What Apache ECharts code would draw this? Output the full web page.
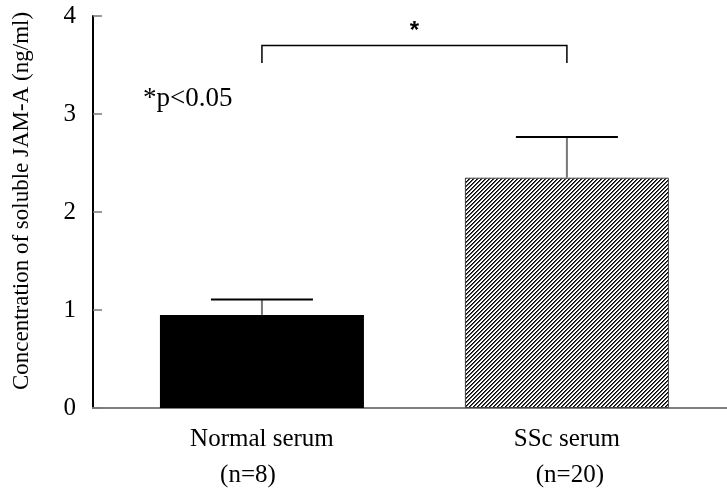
<!DOCTYPE html>
<html>
<head>
<meta charset="utf-8">
<script src="https://cdn.jsdelivr.net/npm/echarts@6/dist/echarts.min.js"></script>
<style>
  html, body { margin: 0; padding: 0; background: #fff; }
  #chart { width: 727px; height: 494px; }
</style>
</head>
<body>
<div id="chart"></div>
<script>
// Groups and their sample sizes
const groups = ['Normal serum', 'SSc serum'];
const sampleSizes = ['(n=8)', '(n=20)'];
// Mean concentration (ng/ml) and its error per group
const means = [0.95, 2.35];
const errors = [0.157, 0.415];
// Y axis ticks
const yTicks = [0, 1, 2, 3, 4];
// Significance bracket: spans group 1 to 2, top level and leg end level
const bracket = { from: 1, to: 2, top: 3.7, leg: 3.52, mark: '*' };
const pNote = '*p<0.05';

const positions = groups.map((_, i) => i + 1);

// Diagonal hatch tile for the second bar
function hatchTile() {
  const c = document.createElement('canvas');
  const n = 4;
  c.width = n; c.height = n;
  const ctx = c.getContext('2d');
  const img = ctx.createImageData(n, n);
  for (let y = 0; y < n; y++) {
    for (let x = 0; x < n; x++) {
      const d = (x + y) % n;
      let v = 255;
      if (d === n - 1) v = 0;
      else if (d === 0) v = 80;
      const k = (y * n + x) * 4;
      img.data[k] = v; img.data[k + 1] = v; img.data[k + 2] = v; img.data[k + 3] = 255;
    }
  }
  ctx.putImageData(img, 0, 0);
  return c;
}

const serif = 'Liberation Serif';
const chart = echarts.init(document.getElementById('chart'), null, { renderer: 'canvas' });

const barData = positions.map((p, i) => ({
  value: [p, means[i]],
  itemStyle: i === 0
    ? { color: '#000', borderColor: '#000', borderWidth: 0 }
    : { color: { image: hatchTile(), repeat: 'repeat' }, borderColor: '#444', borderWidth: 1 }
}));

chart.setOption({
  animation: false,
  backgroundColor: '#fff',
  grid: { left: 93, right: 0, top: 16, bottom: 86, outerBoundsMode: 'none', containLabel: false },
  xAxis: {
    type: 'value',
    min: 0.446,
    max: 2.525,
    splitLine: { show: false },
    axisLine: { show: true, lineStyle: { color: '#808080', width: 2 } },
    axisTick: { show: false },
    axisLabel: {
      show: true,
      customValues: positions,
      margin: 13,
      formatter: function (v) {
        const i = Math.round(v) - 1;
        if (i < 0 || i >= groups.length) return '';
        return '{a|' + groups[i] + '}\n{b' + i + '|' + sampleSizes[i] + '}';
      },
      rich: {
        a: { fontFamily: serif, fontSize: 25, color: '#000', lineHeight: 36 },
        b0: { fontFamily: serif, fontSize: 25, color: '#000', lineHeight: 36, padding: [0, 28, 0, 0] },
        b1: { fontFamily: serif, fontSize: 25, color: '#000', lineHeight: 36, padding: [0, 0, 0, 6] }
      }
    }
  },
  yAxis: {
    type: 'value',
    min: yTicks[0],
    max: yTicks[yTicks.length - 1],
    interval: 1,
    name: 'Concentration of soluble JAM-A (ng/ml)',
    nameLocation: 'middle',
    nameGap: 60,
    nameRotate: 90,
    nameTextStyle: { fontFamily: serif, fontSize: 23, color: '#000', padding: [0, 0, 0, 22] },
    splitLine: { show: false },
    axisLine: { show: true, lineStyle: { color: '#000', width: 2 } },
    axisTick: { show: true, inside: true, length: 9, lineStyle: { color: '#777', width: 1.5 } },
    axisLabel: { fontFamily: serif, fontSize: 25, color: '#000', margin: 17 }
  },
  graphic: [{
    type: 'text',
    left: 143,
    top: 85,
    style: { text: pNote, font: '27px "Liberation Serif"', fill: '#000' }
  }],
  series: [
    {
      type: 'bar',
      barWidth: 204,
      data: barData,
      z: 2
    },
    {
      type: 'custom',
      z: 3,
      data: positions.map((p, i) => [p, means[i], errors[i]]),
      renderItem: function (params, api) {
        const x = api.value(0), m = api.value(1), e = api.value(2);
        const p0 = api.coord([x, m]);
        const p1 = api.coord([x, m + e]);
        const half = 51;
        return {
          type: 'group',
          children: [
            { type: 'line', shape: { x1: p0[0], y1: p0[1], x2: p1[0], y2: p1[1] },
              style: { stroke: '#777', lineWidth: 2 } },
            { type: 'line', shape: { x1: p1[0] - half, y1: p1[1], x2: p1[0] + half, y2: p1[1] },
              style: { stroke: '#000', lineWidth: 2 } }
          ]
        };
      }
    },
    {
      type: 'custom',
      z: 3,
      data: [[bracket.from, bracket.to, bracket.top, bracket.leg]],
      renderItem: function (params, api) {
        const a = api.value(0), b = api.value(1), t = api.value(2), l = api.value(3);
        const pa = api.coord([a, l]), pat = api.coord([a, t]);
        const pbt = api.coord([b, t]), pb = api.coord([b, l]);
        return {
          type: 'group',
          children: [
            { type: 'polyline',
              shape: { points: [pa, pat, pbt, pb] },
              style: { stroke: '#000', lineWidth: 1.5, fill: null } },
            { type: 'text',
              style: { text: bracket.mark, x: (pat[0] + pbt[0]) / 2, y: pat[1] - 14,
                font: 'bold 24px "Liberation Sans"', fill: '#000',
                align: 'center', verticalAlign: 'middle' } }
          ]
        };
      }
    }
  ]
});
</script>
</body>
</html>
